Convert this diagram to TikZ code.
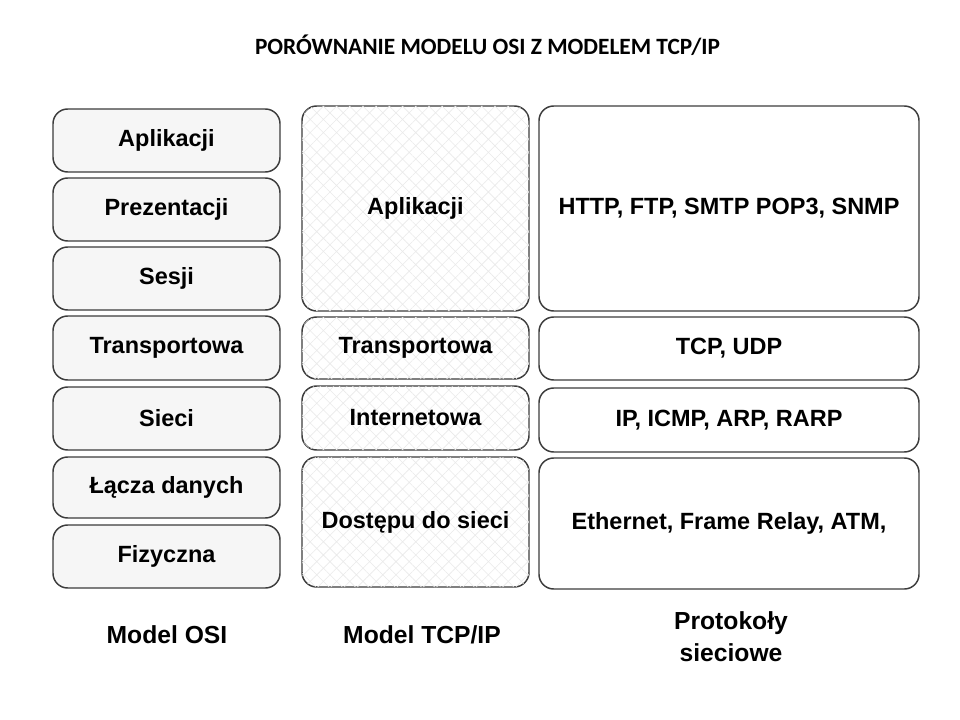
\documentclass[tikz,border=0pt]{standalone}
\usepackage{fontspec}
\setmainfont{Liberation Sans}
\newfontfamily\titlefont{Carlito}
\usetikzlibrary{patterns.meta}
\definecolor{edge}{HTML}{3C3C3C}
\definecolor{osifill}{HTML}{F6F6F6}
\definecolor{hatchcol}{HTML}{EAEAEA}
\tikzset{
  layer/.style={draw=edge, line width=1.1pt, rounded corners=11pt, inner sep=0pt,
    font=\fontsize{17.6}{20}\selectfont\bfseries, align=center},
  osibox/.style={layer, fill=osifill, minimum width=170.25pt},
  tcpbox/.style={layer, fill=white, minimum width=170.25pt,
    postaction={pattern={Hatch[angle=45,distance=7pt,line width=0.45pt]}, pattern color=hatchcol}},
  protbox/.style={layer, fill=white, minimum width=285pt},
  caption/.style={font=\fontsize{18.5}{24}\selectfont\bfseries, align=center, inner sep=0pt},
}
\begin{document}
\begin{tikzpicture}[x=0.75pt, y=-0.75pt]
\useasboundingbox (0,0) rectangle (960,720);
\node[font=\titlefont\fontsize{17.5}{20}\selectfont\bfseries, inner sep=0pt] (title) at (487.5,45) {PORÓWNANIE MODELU OSI Z MODELEM TCP/IP};
% OSI column
\node[osibox, minimum height=47.25pt] (o1) at (166.5,140.5) {Aplikacji};
\node[osibox, minimum height=47.25pt] (o2) at (166.5,209.5) {Prezentacji};
\node[osibox, minimum height=47.25pt] (o3) at (166.5,278.5) {Sesji};
\node[osibox, minimum height=48pt] (o4) at (166.5,348) {Transportowa};
\node[osibox, minimum height=47.25pt] (o5) at (166.5,418.5) {Sieci};
\node[osibox, minimum height=45.75pt] (o6) at (166.5,487.5) {Łącza danych};
\node[osibox, minimum height=47.25pt] (o7) at (166.5,556.5) {Fizyczna};
% TCP/IP column
\node[tcpbox, minimum height=153.75pt] (t1) at (415.5,208.5) {Aplikacji};
\node[tcpbox, minimum height=46.5pt] (t2) at (415.5,348) {Transportowa};
\node[tcpbox, minimum height=48pt] (t3) at (415.5,418) {Internetowa};
\node[tcpbox, minimum height=97.5pt] (t4) at (415.5,522) {Dostępu do sieci};
% Protocols column
\node[protbox, minimum height=153.75pt] (p1) at (729,208.5) {HTTP, FTP, SMTP POP3, SNMP};
\node[protbox, minimum height=47.25pt] (p2) at (729,348.5) {TCP, UDP};
\node[protbox, minimum height=48pt] (p3) at (729,420) {IP, ICMP, ARP, RARP};
\node[protbox, minimum height=98.25pt] (p4) at (729,523.5) {Ethernet, Frame Relay, ATM,};
% captions
\node[caption] (c1) at (167,635) {Model OSI};
\node[caption] (c2) at (422,635) {Model TCP/IP};
\node[caption] (c3) at (731,637) {Protokoły\\sieciowe};
\end{tikzpicture}
\end{document}
